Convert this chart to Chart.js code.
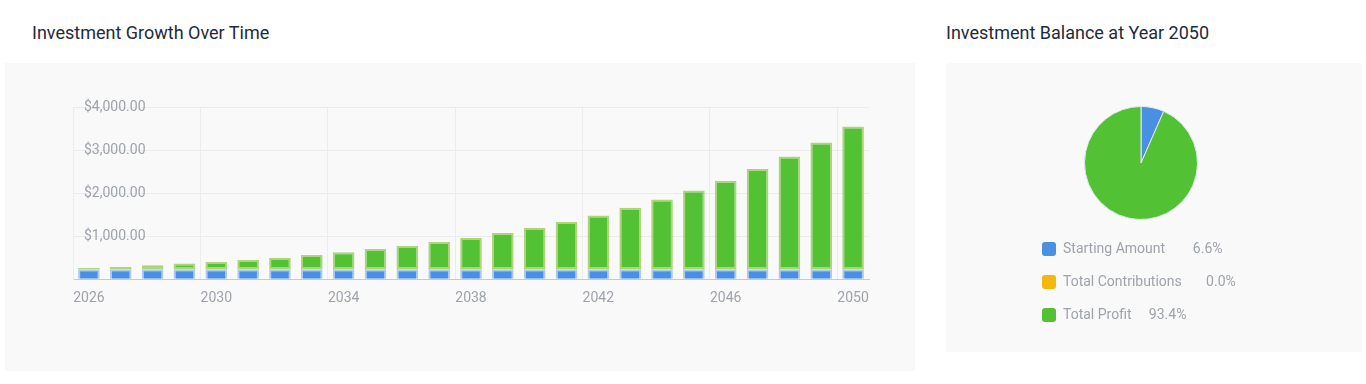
<!DOCTYPE html>
<html lang="en">
<head>
    <meta charset="UTF-8">
    <title>Investment Growth</title>
    <style>
        body {
            margin: 0;
            width: 1366px;
            height: 384px;
            background: #ffffff;
            font-family: Roboto, Arial, sans-serif;
            position: relative;
            overflow: hidden;
        }
        .title {
            position: absolute;
            top: 23px;
            font-size: 18px;
            line-height: 20px;
            color: #1f2a3a;
        }
        .panel {
            position: absolute;
            background: #f9f9f9;
        }
        #growthBox { left: 5px; top: 63px; width: 910px; height: 308px; }
        #balanceBg { left: 946px; top: 63px; width: 416px; height: 289px; }
        #balanceBox { position: absolute; left: 1023px; top: 63px; width: 236px; height: 289px; }
    </style>
</head>
<body>
    <div class="title" style="left:32px">Investment Growth Over Time</div>
    <div class="title" style="left:946px">Investment Balance at Year 2050</div>

    <div class="panel" id="growthBox"><canvas id="growthChart"></canvas></div>
    <div class="panel" id="balanceBg"></div>
    <div id="balanceBox"><canvas id="balanceChart"></canvas></div>

    <script src="https://cdn.jsdelivr.net/npm/chart.js"></script>
    <script>
        // years shown on the bar chart
        const years = ['2026', '2027', '2028', '2029', '2030', '2031', '2032', '2033', '2034',
            '2035', '2036', '2037', '2038', '2039', '2040', '2041', '2042', '2043', '2044',
            '2045', '2046', '2047', '2048', '2049', '2050'];

        const startingAmount = [234, 234, 234, 234, 234, 234, 234, 234, 234, 234, 234, 234, 234,
            234, 234, 234, 234, 234, 234, 234, 234, 234, 234, 234, 234];
        const totalContributions = [0, 0, 0, 0, 0, 0, 0, 0, 0, 0, 0, 0, 0,
            0, 0, 0, 0, 0, 0, 0, 0, 0, 0, 0, 0];
        const totalProfit = [26, 54, 90, 128, 168, 213, 267, 328, 391, 466, 538, 628, 724,
            837, 961, 1092, 1246, 1423, 1616, 1824, 2055, 2325, 2617, 2941, 3311];

        const yTicks = [0, 1000, 2000, 3000, 4000];

        // balance at final year, in percent
        const balanceLabels = ['Starting Amount', 'Total Contributions', 'Total Profit'];
        const balanceShares = [6.6, 0.0, 93.4];

        const BLUE = '#4a90e2';
        const YELLOW = '#f4b70f';
        const GREEN = '#52c234';
        const TICK_COLOR = '#9ea3ab';

        Chart.defaults.font.family = 'Roboto';

        function money(v) {
            return '$' + v.toLocaleString('en-US', { minimumFractionDigits: 2, maximumFractionDigits: 2 });
        }

        new Chart(document.getElementById('growthChart'), {
            type: 'bar',
            data: {
                labels: years,
                datasets: [{
                    label: 'Starting Amount',
                    data: startingAmount,
                    backgroundColor: BLUE,
                    borderColor: 'rgba(74, 144, 226, 0.45)',
                    borderWidth: 2
                }, {
                    label: 'Total Contributions',
                    data: totalContributions,
                    backgroundColor: YELLOW,
                    borderWidth: 0
                }, {
                    label: 'Total Profit',
                    data: totalProfit,
                    backgroundColor: GREEN,
                    borderColor: 'rgba(150, 200, 80, 0.75)',
                    borderWidth: 2,
                    borderSkipped: false
                }]
            },
            options: {
                responsive: true,
                maintainAspectRatio: false,
                animation: false,
                categoryPercentage: 0.8,
                barPercentage: 0.85,
                layout: { padding: { left: 46, top: 44, right: 46, bottom: 53 } },
                plugins: {
                    legend: { display: false },
                    tooltip: {
                        callbacks: {
                            label: function(item) {
                                return item.dataset.label + ': ' + money(item.raw);
                            }
                        }
                    }
                },
                scales: {
                    x: {
                        stacked: true,
                        border: { display: true, color: '#c9c9c9' },
                        grid: {
                            drawTicks: false,
                            color: function(c) {
                                return (c.index % 4 === 0 || c.index === years.length) ? '#ececec' : 'rgba(0,0,0,0)';
                            }
                        },
                        ticks: {
                            autoSkip: false,
                            maxRotation: 0,
                            padding: 11,
                            color: TICK_COLOR,
                            font: { size: 14 },
                            callback: function(val, i) {
                                return i % 4 === 0 ? years[i] : '';
                            }
                        }
                    },
                    y: {
                        stacked: true,
                        min: yTicks[0],
                        max: yTicks[yTicks.length - 1],
                        border: { display: true, color: '#ececec' },
                        grid: { drawTicks: false, color: '#ececec' },
                        afterBuildTicks: function(scale) {
                            scale.ticks = yTicks.map(v => ({ value: v }));
                        },
                        ticks: {
                            mirror: true,
                            padding: 11,
                            color: TICK_COLOR,
                            font: { size: 14 },
                            callback: function(v) {
                                return v === 0 ? '' : money(v);
                            }
                        }
                    }
                }
            }
        });

        const legendGaps = [8, 7, 5];

        new Chart(document.getElementById('balanceChart'), {
            type: 'pie',
            data: {
                labels: balanceLabels,
                datasets: [{
                    data: balanceShares,
                    backgroundColor: [BLUE, YELLOW, GREEN],
                    borderColor: '#dfe9f2',
                    borderWidth: 1,
                    radius: 56.5
                }]
            },
            options: {
                responsive: true,
                maintainAspectRatio: false,
                animation: false,
                layout: { padding: { top: 40, bottom: 20 } },
                plugins: {
                    tooltip: {
                        callbacks: {
                            label: function(item) {
                                return item.label + ': ' + item.raw.toFixed(1) + '%';
                            }
                        }
                    },
                    legend: {
                        position: 'bottom',
                        align: 'start',
                        labels: {
                            boxWidth: 14,
                            boxHeight: 14,
                            padding: 19,
                            useBorderRadius: true,
                            borderRadius: 3,
                            color: TICK_COLOR,
                            font: { size: 14 },
                            generateLabels: function(chart) {
                                const items = Chart.overrides.pie.plugins.legend.labels.generateLabels(chart);
                                items.forEach(function(it, i) {
                                    it.text = balanceLabels[i] + ' '.repeat(legendGaps[i]) + balanceShares[i].toFixed(1) + '%';
                                    it.strokeStyle = it.fillStyle;
                                    it.lineWidth = 0;
                                });
                                return items;
                            }
                        }
                    }
                }
            }
        });
    </script>
</body>
</html>
